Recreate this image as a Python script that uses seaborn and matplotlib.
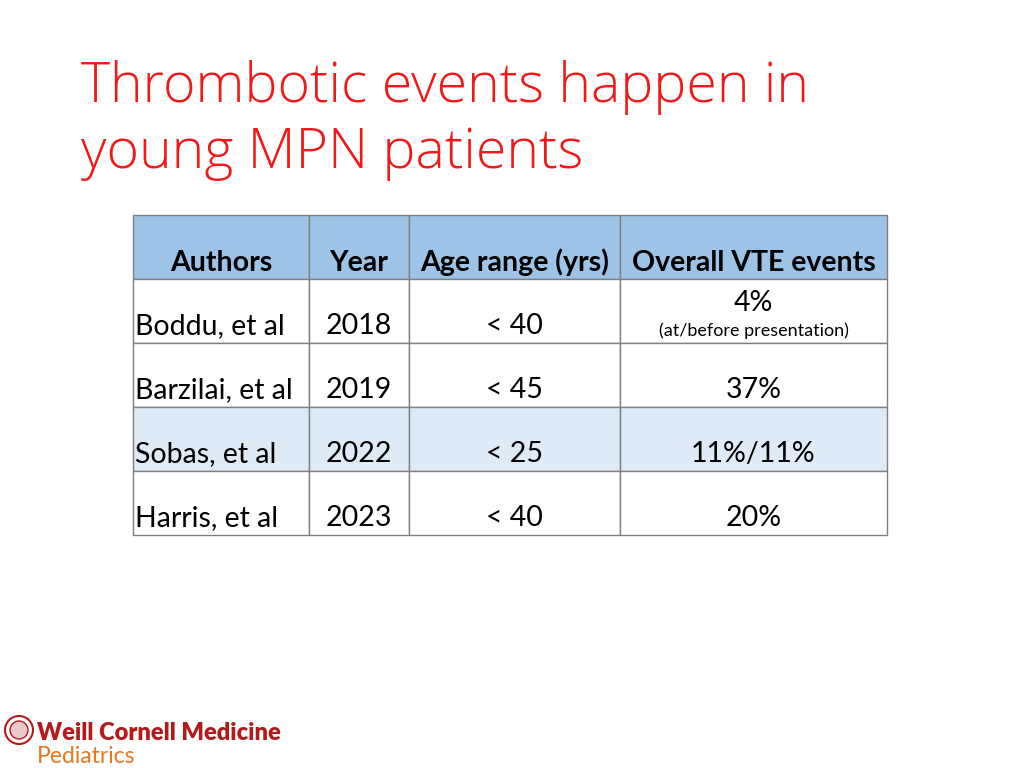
import matplotlib
matplotlib.use("Agg")
import matplotlib.pyplot as plt
import matplotlib.patches as mpatches
import seaborn as sns

# table data
headers = ["Authors", "Year", "Age range (yrs)", "Overall VTE events"]
authors = ["Boddu, et al", "Barzilai, et al", "Sobas, et al", "Harris, et al"]
years = ["2018", "2019", "2022", "2023"]
age_ranges = ["< 40", "< 45", "< 25", "< 40"]
vte_events = ["4%", "37%", "11%/11%", "20%"]
vte_notes = ["(at/before presentation)", "", "", ""]
highlight_rows = [False, False, True, False]

sns.set_theme(style="white")
plt.rcParams["font.family"] = ["Lato", "DejaVu Sans"]

fig = plt.figure(figsize=(10.24, 7.68), dpi=100)
ax = fig.add_axes([0, 0, 1, 1])
ax.set_xlim(0, 1024)
ax.set_ylim(768, 0)
ax.axis("off")

# title
title_font = ["Open Sans", "DejaVu Sans"]
ax.text(81, 102, "Thrombotic events happen in", color="#F01818", fontsize=40,
        family=title_font, fontweight="light", va="baseline", ha="left")
ax.text(81, 168, "young MPN patients", color="#F01818", fontsize=40,
        family=title_font, fontweight="light", va="baseline", ha="left")

# table layout
col_edges = [133, 309, 409, 620, 887]
top = 215
row_h = 64
border = "#7F7F7F"
header_bg = "#9DC3E6"
band_bg = "#DEEBF7"
fs = 20.5

rows = list(zip(authors, years, age_ranges, vte_events))
n_rows = len(rows) + 1

for r in range(n_rows):
    y0 = top + r * row_h
    if r == 0:
        bg = header_bg
    elif highlight_rows[r - 1]:
        bg = band_bg
    else:
        bg = "white"
    for c in range(len(headers)):
        x0 = col_edges[c]
        w = col_edges[c + 1] - x0
        ax.add_patch(mpatches.Rectangle((x0, y0), w, row_h, facecolor=bg,
                                        edgecolor=border, linewidth=1.0))

# header text
for c, h in enumerate(headers):
    xc = (col_edges[c] + col_edges[c + 1]) / 2
    ax.text(xc, top + row_h - 8, h, fontsize=fs, fontweight="bold",
            ha="center", va="baseline", color="black")

# body text
for r, (a, yr, ag, ev) in enumerate(rows):
    base = top + (r + 2) * row_h - 9
    ax.text(col_edges[0] + 2, base, a, fontsize=fs, ha="left",
            va="baseline", color="black")
    ax.text((col_edges[1] + col_edges[2]) / 2, base, yr, fontsize=fs,
            ha="center", va="baseline", color="black")
    ax.text((col_edges[2] + col_edges[3]) / 2, base, ag, fontsize=fs,
            ha="center", va="baseline", color="black")
    xc = (col_edges[3] + col_edges[4]) / 2
    if vte_notes[r]:
        ax.text(xc, base - 23, ev, fontsize=fs, ha="center",
                va="baseline", color="black")
        ax.text(xc, base + 2, vte_notes[r], fontsize=13, ha="center",
                va="baseline", color="black")
    else:
        ax.text(xc, base, ev, fontsize=fs, ha="center", va="baseline",
                color="black")

# logo
ax.add_patch(mpatches.Circle((19, 730), 14, facecolor="white",
                             edgecolor="#B31B1B", linewidth=1.5))
ax.add_patch(mpatches.Circle((19, 730), 9, facecolor="#E9C9C9",
                             edgecolor="#B31B1B", linewidth=1.0))
ax.text(37, 740, "Weill Cornell Medicine", color="#B31B1B", fontsize=17,
        fontweight="heavy", ha="left", va="baseline")
ax.text(37, 763, "Pediatrics", color="#E87722", fontsize=16.5,
        ha="left", va="baseline")

fig.savefig("out.png", dpi=100, facecolor="white")
